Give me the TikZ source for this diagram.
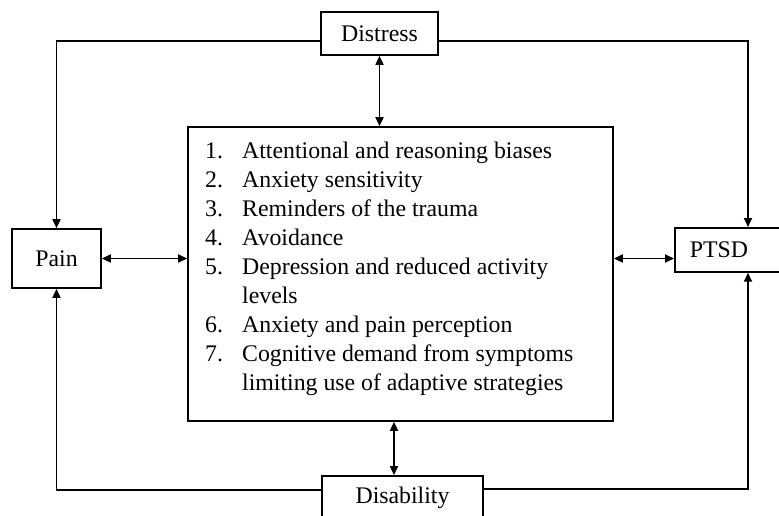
\documentclass[tikz,border=0pt]{standalone}
\usepackage{fontspec}
\setmainfont{Liberation Serif}
\usetikzlibrary{arrows.meta,positioning}
\tikzset{
  ar/.style={{Triangle[length=9pt,width=8pt]}-{Triangle[length=9pt,width=8pt]},line width=1.7pt},
  ln/.style={-{Triangle[length=9pt,width=8pt]},line width=1.7pt},
  box/.style={draw,line width=1.7pt,inner sep=0pt,font=\fontsize{23.8}{29}\selectfont}
}
\newcommand{\itm}[1]{\makebox[37pt][l]{#1}}

\begin{document}
\begin{tikzpicture}[x=1pt,y=-1pt]
\useasboundingbox (0,0) rectangle (779,516);
\node[box,minimum width=117pt,minimum height=43pt] (distress) at (379.5,33.5) {Distress};
\node[box,minimum width=89pt,minimum height=59pt] (pain) at (56.5,258.5) {Pain};
\node[box,anchor=north west,minimum height=44pt,inner xsep=15pt,text width=90pt,align=left] (ptsd) at (674,227) {PTSD};
\node[box,minimum width=161pt,minimum height=43pt] (disab) at (402.5,497.5) {Disability};
\node[box,minimum width=425pt,minimum height=294pt] (factors) at (400.5,274) {};
\node[anchor=north west,inner sep=0pt,align=left,font=\fontsize{23.8}{29}\selectfont] (items) at (205,142) {%
\itm{1.}Attentional and reasoning biases\\
\itm{2.}Anxiety sensitivity\\
\itm{3.}Reminders of the trauma\\
\itm{4.}Avoidance\\
\itm{5.}Depression and reduced activity\\
\itm{}levels\\
\itm{6.}Anxiety and pain perception\\
\itm{7.}Cognitive demand from symptoms\\
\itm{}limiting use of adaptive strategies};
\draw[ar] (distress.south) -- (distress.south |- factors.north);
\draw[ar] (pain.east) -- (pain.east -| factors.west);
\draw[ar] (factors.east |- pain.east) -- (ptsd.west |- pain.east);
\draw[ar] ([xshift=-8.5pt]disab.north) -- ([xshift=-8.5pt]disab.north |- factors.south);
\draw[ln] ([yshift=-7.5pt]distress.west) -| (pain.north);
\draw[ln] ([yshift=-7.5pt]distress.east) -| ([xshift=74pt]ptsd.north west);
\draw[ln] ([yshift=7.5pt]disab.west) -| (pain.south);
\draw[ln] ([yshift=8.5pt]disab.east) -| ([xshift=74pt]ptsd.south west);
\end{tikzpicture}
\end{document}
